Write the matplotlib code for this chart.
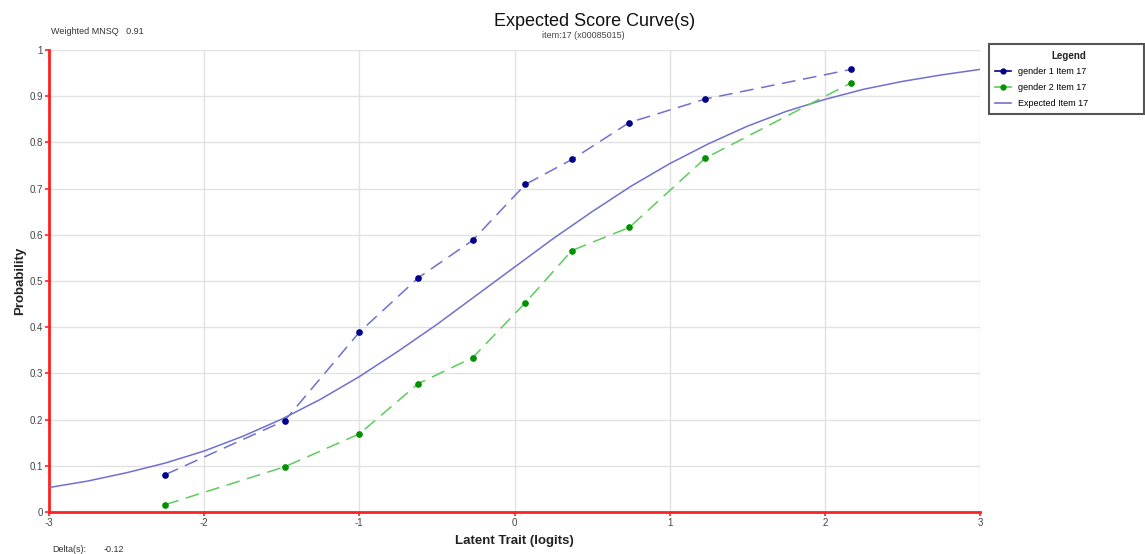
import matplotlib
matplotlib.use("Agg")
import matplotlib.pyplot as plt
from matplotlib.lines import Line2D
from matplotlib.patches import Rectangle

plt.rcParams['font.family'] = ['Liberation Sans', 'DejaVu Sans']

# 观测点（两组）
theta = [-2.25, -1.48, -1.00, -0.62, -0.27, 0.07, 0.37, 0.74, 1.23, 2.17]
gender1 = [0.081, 0.198, 0.389, 0.507, 0.588, 0.709, 0.763, 0.843, 0.894, 0.958]
gender2 = [0.016, 0.098, 0.169, 0.278, 0.334, 0.453, 0.566, 0.616, 0.766, 0.929]

# 期望曲线
exp_x = [-3.0, -2.75, -2.5, -2.25, -2.0, -1.75, -1.5, -1.25, -1.0, -0.75, -0.5, -0.25,
         0.0, 0.25, 0.5, 0.75, 1.0, 1.25, 1.5, 1.75, 2.0, 2.25, 2.5, 2.75, 3.0]
exp_y = [0.053, 0.067, 0.085, 0.106, 0.132, 0.164, 0.201, 0.244, 0.293, 0.348, 0.406, 0.468,
         0.530, 0.592, 0.650, 0.705, 0.754, 0.797, 0.835, 0.867, 0.893, 0.915, 0.932, 0.946, 0.958]

legend_labels = ["gender 1 Item 17", "gender 2 Item 17", "Expected Item 17"]

W, H = 1145, 554
fig = plt.figure(figsize=(W / 100, H / 100), dpi=100)
ax = fig.add_axes([49 / W, 1 - 512 / H, (980 - 49) / W, (512 - 50) / H])

ax.plot(exp_x, exp_y, color="#7070d0", lw=1.1, zorder=3)
ax.plot(theta, gender1, color="#7070d0", lw=1.1, dashes=(9, 5), zorder=3)
ax.plot(theta, gender1, ls="none", marker="o", ms=3.8, color="#00008b", zorder=4)
ax.plot(theta, gender2, color="#5ccc5c", lw=1.1, dashes=(9, 5), zorder=3)
ax.plot(theta, gender2, ls="none", marker="o", ms=3.8, color="#009000", zorder=4)

ax.set_xlim(-3, 3)
ax.set_ylim(0, 1)
ax.set_xticks([-3, -2, -1, 0, 1, 2, 3])
ax.set_xticklabels(["-3", "-2", "-1", "0", "1", "2", "3"])
ax.set_yticks([i / 10 for i in range(11)])
ax.set_yticklabels(["0", "0.1", "0.2", "0.3", "0.4", "0.5", "0.6", "0.7", "0.8", "0.9", "1"])
ax.grid(True, color="#e2e2e2", lw=1)
ax.set_axisbelow(True)
for s in ["top", "right"]:
    ax.spines[s].set_visible(False)
for s in ["left", "bottom"]:
    ax.spines[s].set_color("#ff2020")
    ax.spines[s].set_linewidth(2)
ax.tick_params(colors="#ff2020", labelcolor="#444444", labelsize=7, length=3, width=1.2, pad=1.5)

ax.set_xlabel("Latent Trait (logits)", fontsize=9.5, fontweight="bold", labelpad=5, color="#222222")
ax.set_ylabel("Probability", fontsize=9.5, fontweight="bold", labelpad=2, color="#222222")

fig.text(595 / W, 1 - 21 / H, "Expected Score Curve(s)", ha="center", va="center", fontsize=13, color="#111111")
fig.text(583 / W, 1 - 35 / H, "item:17 (x00085015)", ha="center", va="center", fontsize=6.5, color="#444444")
fig.text(51 / W, 1 - 32 / H, "Weighted MNSQ   0.91", ha="left", va="center", fontsize=6.5, color="#333333")
fig.text(52 / W, 1 - 549 / H, "Delta(s):", ha="left", va="center", fontsize=6.5, color="#333333")
fig.text(104 / W, 1 - 549 / H, "-0.12", ha="left", va="center", fontsize=6.5, color="#333333")

# 图例框
fig.patches.append(Rectangle((989 / W, 1 - 114 / H), 155 / W, 70 / H, transform=fig.transFigure,
                             fill=False, edgecolor="#555555", lw=1.5))
fig.text(1069 / W, 1 - 56 / H, "Legend", ha="center", va="center", fontsize=7, fontweight="bold",
         color="#222222")
handles = [
    Line2D([], [], color="#00008b", marker="o", ms=3.5, lw=1.2),
    Line2D([], [], color="#5ccc5c", marker="o", ms=3.5, lw=1.2, markerfacecolor="#009000",
           markeredgecolor="#009000"),
    Line2D([], [], color="#7070d0", lw=1.2),
]
fig.legend(handles, legend_labels, loc="upper left", bbox_to_anchor=(995 / W, 1 - 67 / H),
           frameon=False, fontsize=6.5, handlelength=1.8, handletextpad=0.8,
           labelspacing=0.8, borderaxespad=0, borderpad=0)

fig.savefig("out.png", dpi=100)
